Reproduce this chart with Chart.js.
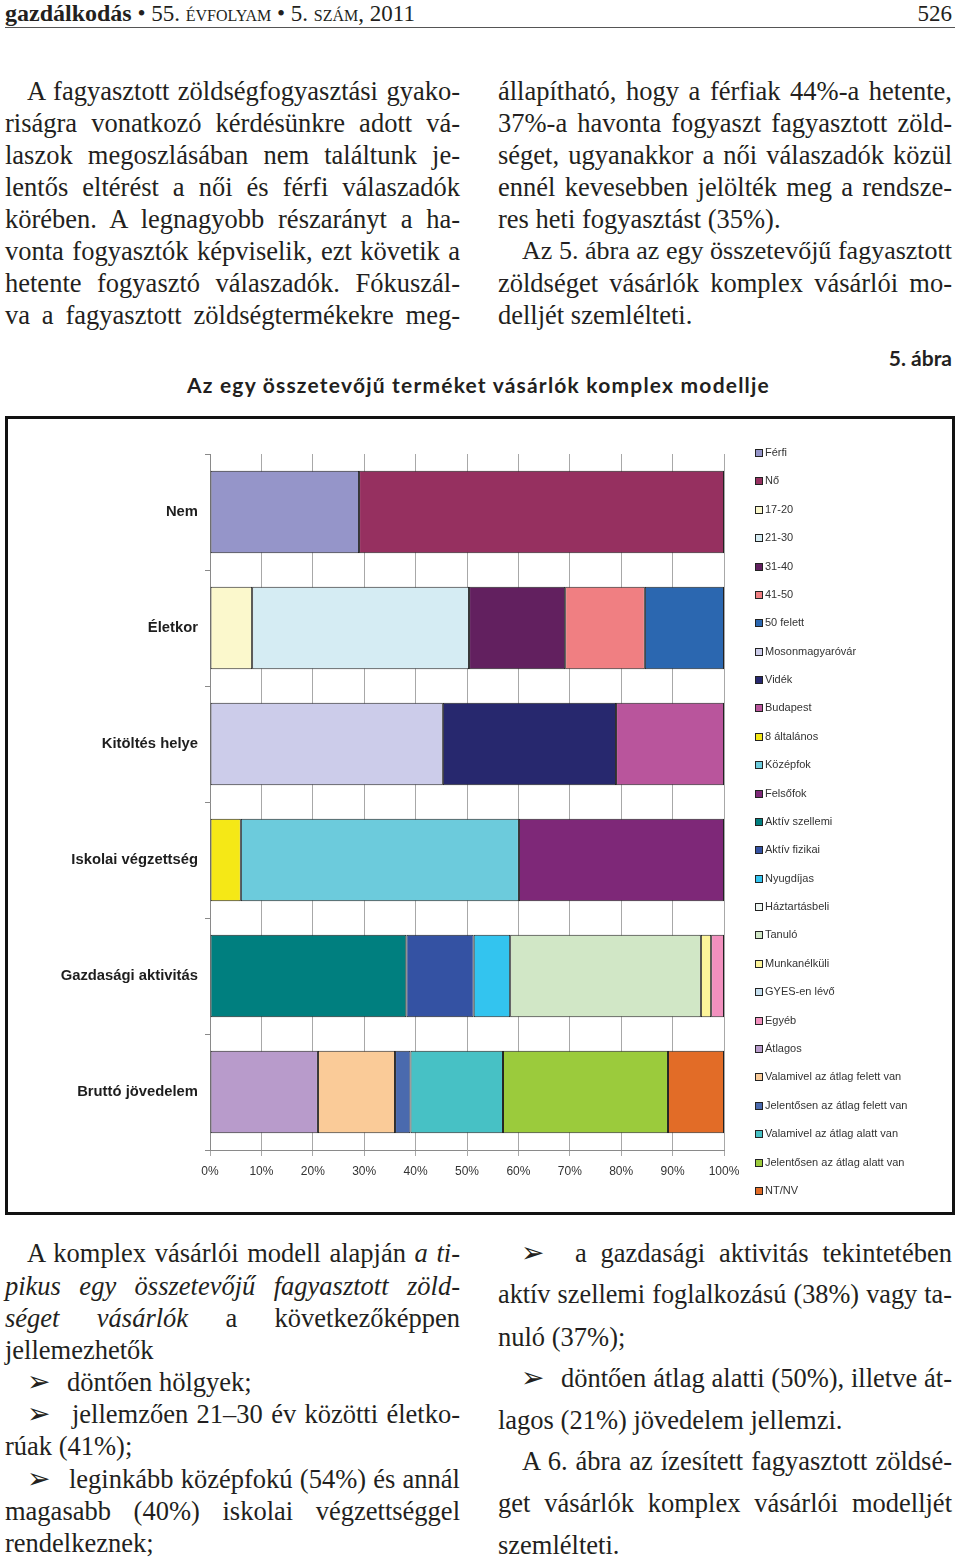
<!DOCTYPE html>
<html lang="hu">
<head>
<meta charset="utf-8">
<script src="https://cdn.jsdelivr.net/npm/chart.js@4.4.1/dist/chart.umd.min.js"></script>
<style>
  html, body { margin: 0; padding: 0; background: #fff; }
  body { width: 960px; height: 1560px; position: relative; overflow: hidden; color: #231f20; }
  .ln { position: absolute; height: 32px; line-height: 32px; font-family: "Liberation Serif", serif; font-size: 26.5px; }
  .j { text-align: justify; text-align-last: justify; }
  .hdr { position: absolute; top: 0; height: 27px; line-height: 27px; font-family: "Liberation Serif", serif; font-size: 23px; }
  .rule { position: absolute; left: 5px; top: 27px; width: 950px; height: 1px; background: #555; }
  .cap { position: absolute; font-family: Lato, "Open Sans", sans-serif; font-weight: bold; font-size: 21px; white-space: nowrap; }
  .box { position: absolute; left: 5px; top: 416px; width: 944px; height: 793px; border: 3px solid #111; }
  #legend { position: absolute; left: 0; top: 0; }
  .li { position: absolute; height: 14px; line-height: 14px; font-family: "Liberation Sans", Arial, sans-serif; font-size: 11px; color: #333; white-space: nowrap; }
  .li span { display: inline-block; width: 6px; height: 6px; border: 1px solid #222; margin-right: 2px; vertical-align: -1px; }
  .arr { position: absolute; font-family: "DejaVu Sans", sans-serif; font-size: 28px; height: 32px; line-height: 32px; }
</style>
</head>
<body>

<div class="hdr" style="left:5px"><b style="font-size:24px">gazdálkodás</b> • 55. <span style="font-variant:small-caps">évfolyam</span> • 5. <span style="font-variant:small-caps">szám</span>, 2011</div>
<div class="hdr" style="right:8px">526</div>
<div class="rule"></div>

<!-- bal hasáb, felső -->
<div class="ln j" style="left:27px;width:433px;top:75px">A fagyasztott zöldségfogyasztási gyako-</div>
<div class="ln j" style="left:5px;width:455px;top:107px">riságra vonatkozó kérdésünkre adott vá-</div>
<div class="ln j" style="left:5px;width:455px;top:139px">laszok megoszlásában nem találtunk je-</div>
<div class="ln j" style="left:5px;width:455px;top:171px">lentős eltérést a női és férfi válaszadók</div>
<div class="ln j" style="left:5px;width:455px;top:203px">körében. A legnagyobb részarányt a ha-</div>
<div class="ln j" style="left:5px;width:455px;top:235px">vonta fogyasztók képviselik, ezt követik a</div>
<div class="ln j" style="left:5px;width:455px;top:267px">hetente fogyasztó válaszadók. Fókuszál-</div>
<div class="ln j" style="left:5px;width:455px;top:299px">va a fagyasztott zöldségtermékekre meg-</div>

<!-- jobb hasáb, felső -->
<div class="ln j" style="left:498px;width:454px;top:75px">állapítható, hogy a férfiak 44%-a hetente,</div>
<div class="ln j" style="left:498px;width:454px;top:107px">37%-a havonta fogyaszt fagyasztott zöld-</div>
<div class="ln j" style="left:498px;width:454px;top:139px">séget, ugyanakkor a női válaszadók közül</div>
<div class="ln j" style="left:498px;width:454px;top:171px">ennél kevesebben jelölték meg a rendsze-</div>
<div class="ln" style="left:498px;top:203px">res heti fogyasztást (35%).</div>
<div class="ln j" style="left:522px;width:430px;top:235px">Az 5. ábra az egy összetevőjű fagyasztott</div>
<div class="ln j" style="left:498px;width:454px;top:267px">zöldséget vásárlók komplex vásárlói mo-</div>
<div class="ln" style="left:498px;top:299px">delljét szemlélteti.</div>

<div class="cap" style="right:8px;top:345px">5. ábra</div>
<div class="cap" id="title" style="left:187px;top:372px">Az egy összetevőjű terméket vásárlók komplex modellje</div>

<div class="box">
  <canvas id="chart" width="944" height="793"></canvas>
  <div id="legend"></div>
</div>

<!-- bal hasáb, alsó -->
<div class="ln j" style="left:27px;width:433px;top:1237px">A komplex vásárlói modell alapján <i>a ti-</i></div>
<div class="ln j" style="left:5px;width:455px;top:1270px"><i>pikus egy összetevőjű fagyasztott zöld-</i></div>
<div class="ln j" style="left:5px;width:455px;top:1302px"><i>séget vásárlók</i> a következőképpen</div>
<div class="ln" style="left:5px;top:1334px">jellemezhetők</div>
<div class="arr" style="left:27px;top:1366px">➢</div>
<div class="ln" style="left:67px;top:1366px">döntően hölgyek;</div>
<div class="arr" style="left:27px;top:1398px">➢</div>
<div class="ln j" style="left:72px;width:388px;top:1398px">jellemzően 21–30 év közötti életko-</div>
<div class="ln" style="left:5px;top:1430px">rúak (41%);</div>
<div class="arr" style="left:27px;top:1463px">➢</div>
<div class="ln j" style="left:69px;width:391px;top:1463px">leginkább középfokú (54%) és annál</div>
<div class="ln j" style="left:5px;width:455px;top:1495px">magasabb (40%) iskolai végzettséggel</div>
<div class="ln" style="left:5px;top:1527px">rendelkeznek;</div>

<!-- jobb hasáb, alsó -->
<div class="arr" style="left:521px;top:1237px">➢</div>
<div class="ln j" style="left:575px;width:377px;top:1237px">a gazdasági aktivitás tekintetében</div>
<div class="ln j" style="left:498px;width:454px;top:1279px">aktív szellemi foglalkozású (38%) vagy ta-</div>
<div class="ln" style="left:498px;top:1321px">nuló (37%);</div>
<div class="arr" style="left:521px;top:1362px">➢</div>
<div class="ln j" style="left:561px;width:391px;top:1362px">döntően átlag alatti (50%), illetve át-</div>
<div class="ln" style="left:498px;top:1404px">lagos (21%) jövedelem jellemzi.</div>
<div class="ln j" style="left:522px;width:430px;top:1445px">A 6. ábra az ízesített fagyasztott zöldsé-</div>
<div class="ln j" style="left:498px;width:454px;top:1487px">get vásárlók komplex vásárlói modelljét</div>
<div class="ln" style="left:498px;top:1529px">szemlélteti.</div>

<script>
// Kategóriák (a sávok)
const categories = ['Nem', 'Életkor', 'Kitöltés helye', 'Iskolai végzettség', 'Gazdasági aktivitás', 'Bruttó jövedelem'];
const xTicks = [0, 10, 20, 30, 40, 50, 60, 70, 80, 90, 100];

// Csoportok: feliratok, értékek (%), színek
const nemLabels = ['Férfi', 'Nő'];
const nemValues = [29.0, 71.0];
const nemColors = ['#9595c9', '#963060'];

const korLabels = ['17-20', '21-30', '31-40', '41-50', '50 felett'];
const korValues = [8.2, 42.2, 18.7, 15.5, 15.4];
const korColors = ['#fbf8cc', '#d5ecf3', '#62205f', '#f07f82', '#2b67b0'];

const helyLabels = ['Mosonmagyaróvár', 'Vidék', 'Budapest'];
const helyValues = [45.3, 33.7, 21.0];
const helyColors = ['#ccccea', '#27286e', '#b9559c'];

const iskolaLabels = ['8 általános', 'Középfok', 'Felsőfok'];
const iskolaValues = [6.0, 54.1, 39.9];
const iskolaColors = ['#f5e816', '#6ccbdc', '#7e2878'];

const aktivLabels = ['Aktív szellemi', 'Aktív fizikai', 'Nyugdíjas', 'Háztartásbeli', 'Tanuló', 'Munkanélküli', 'GYES-en lévő', 'Egyéb'];
const aktivValues = [38.2, 13.1, 7.1, 0, 37.1, 2.0, 0, 2.5];
const aktivColors = ['#007f7f', '#3452a3', '#33c4ef', '#eef6f2', '#d1e7c6', '#fcf49a', '#c6e0f0', '#f290be'];

const jovLabels = ['Átlagos', 'Valamivel az átlag felett van', 'Jelentősen az átlag felett van', 'Valamivel az átlag alatt van', 'Jelentősen az átlag alatt van', 'NT/NV'];
const jovValues = [21.0, 15.0, 3.0, 18.0, 32.1, 10.9];
const jovColors = ['#b89bcb', '#facb98', '#4a6aae', '#47c1c5', '#9bcb3c', '#e26c27'];

const groups = [
    [nemLabels, nemValues, nemColors],
    [korLabels, korValues, korColors],
    [helyLabels, helyValues, helyColors],
    [iskolaLabels, iskolaValues, iskolaColors],
    [aktivLabels, aktivValues, aktivColors],
    [jovLabels, jovValues, jovColors]
];

// Adatsorok felépítése: minden válaszkategória egy külön adatsor
function buildDatasets() {
    const datasets = [];
    groups.forEach(([labels, values, colors], g) => {
        labels.forEach((label, i) => {
            datasets.push({
                label: label,
                data: categories.map((c, j) => j === g ? values[i] : null),
                backgroundColor: colors[i],
                borderColor: '#222',
                borderWidth: 1,
                borderSkipped: false,
                stack: 'all',
                categoryPercentage: 1,
                barPercentage: 0.71
            });
        });
    });
    return datasets;
}

// Jelmagyarázat a jobb oldalon
function fillLegend(datasets) {
    const legend = document.getElementById('legend');
    datasets.forEach((ds, i) => {
        const div = document.createElement('div');
        div.className = 'li';
        div.style.left = '747px';
        div.style.top = (33 + i * 28.38 - 7) + 'px';
        div.innerHTML = `<span style="background:${ds.backgroundColor}"></span>${ds.label}`;
        legend.appendChild(div);
    });
}

// Szövegsorok: ha egy sor nem fér el, kisebb betűméret
function fitText() {
    document.querySelectorAll('.ln').forEach(el => {
        let size = 26.5;
        while (el.scrollHeight > 40 && size > 18) {
            size -= 0.25;
            el.style.fontSize = size + 'px';
        }
    });
    const title = document.getElementById('title');
    const txt = title.textContent;
    const extra = (583 - title.getBoundingClientRect().width) / txt.length;
    title.style.letterSpacing = extra + 'px';
}

function createChart() {
    const datasets = buildDatasets();
    const ctx = document.getElementById('chart').getContext('2d');
    new Chart(ctx, {
        type: 'bar',
        data: { labels: categories, datasets: datasets },
        options: {
            indexAxis: 'y',
            responsive: false,
            devicePixelRatio: 1,
            animation: false,
            layout: { padding: { left: 0, top: 35, right: 228, bottom: 0 } },
            plugins: { legend: { display: false }, tooltip: { enabled: false } },
            scales: {
                x: {
                    stacked: true,
                    min: 0,
                    max: 100,
                    afterFit: s => { s.height = 62; },
                    afterBuildTicks: s => { s.ticks = xTicks.map(v => ({ value: v })); },
                    ticks: {
                        callback: v => v + '%',
                        color: '#333',
                        padding: 8,
                        maxRotation: 0,
                        font: { family: '"Liberation Sans", Arial, sans-serif', size: 12 }
                    },
                    grid: { color: '#a8a8a8', lineWidth: 1, tickLength: 6 },
                    border: { color: '#8a8a8a' }
                },
                y: {
                    stacked: true,
                    afterFit: s => { s.width = 202; },
                    ticks: {
                        color: '#1e1e1e',
                        padding: 7,
                        font: { family: '"Liberation Sans", Arial, sans-serif', size: 14.8, weight: 'bold' }
                    },
                    grid: { drawOnChartArea: false, drawTicks: true, tickLength: 5, color: '#8a8a8a', offset: true },
                    border: { color: '#8a8a8a' }
                }
            }
        }
    });
    fillLegend(datasets);
}

window.addEventListener('load', () => {
    fitText();
    createChart();
});
</script>
</body>
</html>
